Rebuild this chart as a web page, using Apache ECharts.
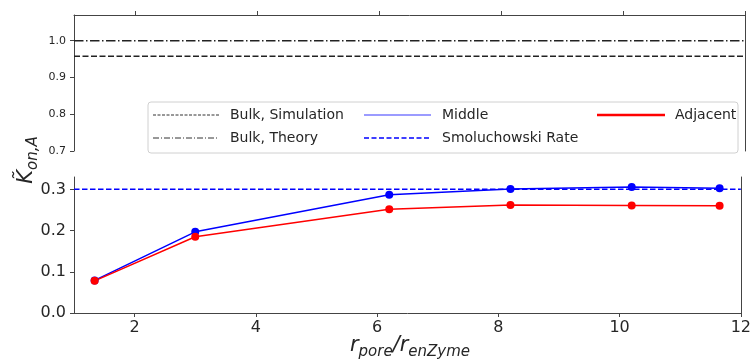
<!DOCTYPE html>
<html>
<head>
<meta charset="utf-8">
<script src="https://cdn.jsdelivr.net/npm/echarts@6/dist/echarts.min.js"></script>
<style>
  html, body { margin: 0; padding: 0; background: #fff; }
  #chart { width: 754px; height: 362px; }
</style>
</head>
<body>
<div id="chart"></div>
<script>
// pore / enzyme radius ratio
const xVals = [1.34, 3.0, 6.2, 8.2, 10.2, 11.65];
const middle = [0.079, 0.197, 0.287, 0.301, 0.306, 0.303];
const adjacent = [0.078, 0.185, 0.252, 0.262, 0.261, 0.260];
const bulkSimulation = 0.958;
const bulkTheory = 1.0;
const smoluchowski = 0.3;
const xRange = [1, 12];
const xTicks = [2, 4, 6, 8, 10, 12];
const topTicks = [0.7, 0.8, 0.9, 1.0];
const bottomTicks = [0.0, 0.1, 0.2, 0.3];

const font = 'DejaVu Sans';
const axisColor = '#444';
const textColor = '#262626';

const pairs = (ys) => xVals.map((x, i) => [x, ys[i]]);
const hline = (y) => [[xRange[0], y], [xRange[1], y]];

const chart = echarts.init(document.getElementById('chart'), null, { renderer: 'canvas' });

const plainLine = { show: true, lineStyle: { color: axisColor, width: 1 } };

chart.setOption({
    animation: false,
    grid: [
        { left: 74, right: 9, top: 15, height: 136 },
        { left: 74, right: 9, top: 177, height: 136 }
    ],
    xAxis: [
        {
            gridIndex: 0, type: 'value', position: 'top', min: xRange[0], max: xRange[1],
            axisLine: plainLine,
            axisTick: { show: true, inside: false, length: 4, customValues: xTicks, lineStyle: { color: axisColor } },
            axisLabel: { show: false },
            splitLine: { show: false }
        },
        {
            gridIndex: 1, type: 'value', position: 'bottom', min: xRange[0], max: xRange[1],
            axisLine: plainLine,
            axisTick: { show: true, length: 4, customValues: xTicks, lineStyle: { color: axisColor } },
            axisLabel: { customValues: xTicks, fontSize: 16, color: textColor, fontFamily: font, margin: 7 },
            splitLine: { show: false }
        }
    ],
    yAxis: [
        {
            gridIndex: 0, type: 'value', min: 0.7, max: 1.07,
            axisLine: plainLine,
            axisTick: { show: true, length: 4, customValues: topTicks, lineStyle: { color: axisColor } },
            axisLabel: { customValues: topTicks, fontSize: 11, color: textColor, fontFamily: font,
                formatter: (v) => v.toFixed(1) },
            splitLine: { show: false }
        },
        {
            gridIndex: 0, type: 'value', position: 'right', min: 0.7, max: 1.07,
            axisLine: plainLine, axisTick: { show: false }, axisLabel: { show: false }, splitLine: { show: false }
        },
        {
            gridIndex: 1, type: 'value', min: 0, max: 0.33,
            axisLine: plainLine,
            axisTick: { show: true, length: 4, customValues: bottomTicks, lineStyle: { color: axisColor } },
            axisLabel: { customValues: bottomTicks, fontSize: 16, color: textColor, fontFamily: font,
                formatter: (v) => v.toFixed(1) },
            splitLine: { show: false }
        },
        {
            gridIndex: 1, type: 'value', position: 'right', min: 0, max: 0.33,
            axisLine: plainLine, axisTick: { show: false }, axisLabel: { show: false }, splitLine: { show: false }
        }
    ],
    series: [
        {
            name: 'Bulk, Simulation', type: 'line', xAxisIndex: 0, yAxisIndex: 0,
            data: hline(bulkSimulation), symbol: 'none',
            lineStyle: { color: '#222', width: 1.5, type: [6, 2.5] }
        },
        {
            name: 'Bulk, Theory', type: 'line', xAxisIndex: 0, yAxisIndex: 0,
            data: hline(bulkTheory), symbol: 'none',
            lineStyle: { color: '#222', width: 1.5, type: [9.5, 2.5, 1.5, 2.5] }
        },
        {
            name: 'Smoluchowski Rate', type: 'line', xAxisIndex: 1, yAxisIndex: 2,
            data: hline(smoluchowski), symbol: 'none',
            lineStyle: { color: '#0000ff', width: 1.5, type: [5.5, 2.5] }
        },
        {
            name: 'Middle', type: 'line', xAxisIndex: 1, yAxisIndex: 2,
            data: pairs(middle), symbol: 'circle', symbolSize: 8,
            itemStyle: { color: '#0000ff' }, lineStyle: { color: '#0000ff', width: 1.5 }
        },
        {
            name: 'Adjacent', type: 'line', xAxisIndex: 1, yAxisIndex: 2,
            data: pairs(adjacent), symbol: 'circle', symbolSize: 8,
            itemStyle: { color: '#ff0000' }, lineStyle: { color: '#ff0000', width: 1.5 }
        }
    ],
    graphic: [
        // legend box
        {
            type: 'rect', z: 100, shape: { x: 148, y: 102, width: 590, height: 51, r: 3 },
            style: { fill: 'rgba(255,255,255,0.85)', stroke: '#d0d0d0', lineWidth: 1 }
        },
        { type: 'line', z: 101, shape: { x1: 153, y1: 115, x2: 219, y2: 115 },
          style: { stroke: '#333', lineWidth: 1, lineDash: [3, 1.5] } },
        { type: 'line', z: 101, shape: { x1: 153, y1: 138, x2: 219, y2: 138 },
          style: { stroke: '#333', lineWidth: 1, lineDash: [6, 2, 1, 2] } },
        { type: 'line', z: 101, shape: { x1: 364, y1: 115, x2: 431, y2: 115 },
          style: { stroke: '#7a7aff', lineWidth: 1.5 } },
        { type: 'line', z: 101, shape: { x1: 364, y1: 138, x2: 431, y2: 138 },
          style: { stroke: '#0000ff', lineWidth: 1.5, lineDash: [5, 2.5] } },
        { type: 'line', z: 101, shape: { x1: 597, y1: 115, x2: 665, y2: 115 },
          style: { stroke: '#ff0000', lineWidth: 2.5 } },
        { type: 'text', z: 101, x: 230, y: 115,
          style: { text: 'Bulk, Simulation', fontSize: 14, fontFamily: font, fill: textColor, verticalAlign: 'middle' } },
        { type: 'text', z: 101, x: 230, y: 138,
          style: { text: 'Bulk, Theory', fontSize: 14, fontFamily: font, fill: textColor, verticalAlign: 'middle' } },
        { type: 'text', z: 101, x: 442, y: 115,
          style: { text: 'Middle', fontSize: 14, fontFamily: font, fill: textColor, verticalAlign: 'middle' } },
        { type: 'text', z: 101, x: 442, y: 138,
          style: { text: 'Smoluchowski Rate', fontSize: 14, fontFamily: font, fill: textColor, verticalAlign: 'middle' } },
        { type: 'text', z: 101, x: 675, y: 115,
          style: { text: 'Adjacent', fontSize: 14, fontFamily: font, fill: textColor, verticalAlign: 'middle' } },
        // y axis title
        {
            type: 'text', x: 24, y: 160, rotation: Math.PI / 2,
            style: {
                text: '{k|K\u0303}{s|on,A}', align: 'center', verticalAlign: 'middle',
                rich: {
                    k: { fontSize: 21, fontStyle: 'italic', fontFamily: font, fill: textColor, lineHeight: 26, verticalAlign: 'bottom' },
                    s: { fontSize: 15, fontStyle: 'italic', fontFamily: font, fill: textColor, lineHeight: 18, verticalAlign: 'bottom', padding: [0, 0, -4, 0] }
                }
            }
        },
        // x axis title
        {
            type: 'text', x: 410, y: 344,
            style: {
                text: '{r|r}{s|pore}{r|/r}{s|enZyme}', align: 'center', verticalAlign: 'middle',
                rich: {
                    r: { fontSize: 21, fontStyle: 'italic', fontFamily: font, fill: textColor, lineHeight: 24, verticalAlign: 'bottom' },
                    s: { fontSize: 15, fontStyle: 'italic', fontFamily: font, fill: textColor, lineHeight: 18, verticalAlign: 'bottom', padding: [0, 0, -4, 0] }
                }
            }
        }
    ]
});
</script>
</body>
</html>
